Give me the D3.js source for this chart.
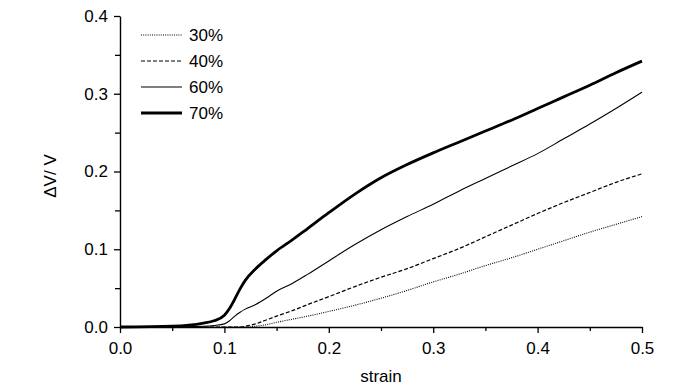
<!DOCTYPE html>
<html>
<head>
<meta charset="utf-8">
<script src="https://cdn.jsdelivr.net/npm/d3@7"></script>
<style>
  body { margin: 0; background: #fff; }
  svg { display: block; font-family: "Liberation Sans", Arial, sans-serif; }
</style>
</head>
<body>
<svg width="700" height="390"></svg>
<script>
// strain grid shared by all curves
const strain = [0, 0.05, 0.08, 0.09, 0.1, 0.105, 0.11, 0.115, 0.12, 0.13, 0.14, 0.15, 0.165, 0.18,
  0.2, 0.225, 0.25, 0.275, 0.3, 0.325, 0.35, 0.375, 0.4, 0.425, 0.45, 0.475, 0.5];

// dV/V
const dv30 = [0, 0, 0, 0, 0, 0, 0, 0, 0, 0.001, 0.003, 0.006, 0.01, 0.014,
  0.02, 0.028, 0.037, 0.047, 0.058, 0.068, 0.079, 0.089, 0.1, 0.111, 0.122, 0.132, 0.142];
const dv40 = [0, 0, 0, 0, 0, 0, 0, 0, 0.001, 0.004, 0.009, 0.014, 0.021, 0.029,
  0.039, 0.052, 0.064, 0.075, 0.088, 0.101, 0.116, 0.131, 0.146, 0.16, 0.173, 0.186, 0.197];
const dv60 = [0, 0, 0.001, 0.002, 0.004, 0.008, 0.014, 0.019, 0.023, 0.029, 0.037, 0.046, 0.056, 0.068,
  0.085, 0.106, 0.125, 0.142, 0.158, 0.175, 0.191, 0.207, 0.223, 0.242, 0.261, 0.281, 0.302];
const dv70 = [0, 0.001, 0.005, 0.008, 0.015, 0.024, 0.036, 0.049, 0.06, 0.075, 0.087, 0.098, 0.112, 0.127,
  0.147, 0.171, 0.192, 0.209, 0.224, 0.238, 0.252, 0.266, 0.281, 0.296, 0.311, 0.327, 0.342];

const seriesNames = ["30%", "40%", "60%", "70%"];
const seriesValues = [dv30, dv40, dv60, dv70];

const xMajor = [0, 0.1, 0.2, 0.3, 0.4, 0.5];
const xMinor = [0.05, 0.15, 0.25, 0.35, 0.45];
const yMajor = [0, 0.1, 0.2, 0.3, 0.4];
const yMinor = [0.05, 0.15, 0.25, 0.35];

// line looks per series
const styles = [
  { w: 1.1, dash: "1,1.2" },
  { w: 1.2, dash: "4,2" },
  { w: 1.1, dash: null },
  { w: 2.8, dash: null }
];

const svg = d3.select("svg");
const plotLeft = 120, plotRight = 642, plotTop = 16, plotBottom = 327;
const fs = 17;

const x = d3.scaleLinear().domain([0, 0.5]).range([plotLeft, plotRight]);
const y = d3.scaleLinear().domain([0, 0.4]).range([plotBottom, plotTop]);

function styleAxis(g) {
  g.selectAll("path.domain").attr("stroke", "#000").attr("stroke-width", 1.4);
  g.selectAll(".tick line").attr("stroke", "#000").attr("stroke-width", 1.3);
  g.selectAll("text").attr("font-size", fs).attr("fill", "#000")
    .attr("font-family", "'Liberation Sans', Arial, sans-serif");
}

// minor ticks first, no domain
svg.append("g").attr("transform", `translate(0,${plotBottom})`)
  .call(d3.axisBottom(x).tickValues(xMinor).tickSize(4).tickFormat(""))
  .call(g => g.select(".domain").remove()).call(styleAxis);
svg.append("g").attr("transform", `translate(${plotLeft},0)`)
  .call(d3.axisLeft(y).tickValues(yMinor).tickSize(5).tickFormat(""))
  .call(g => g.select(".domain").remove()).call(styleAxis);

svg.append("g").attr("transform", `translate(0,${plotBottom})`)
  .call(d3.axisBottom(x).tickValues(xMajor).tickSizeInner(6).tickSizeOuter(0).tickPadding(9)
    .tickFormat(d3.format(".1f")))
  .call(styleAxis);
svg.append("g").attr("transform", `translate(${plotLeft},0)`)
  .call(d3.axisLeft(y).tickValues(yMajor).tickSizeInner(6).tickSizeOuter(0).tickPadding(6)
    .tickFormat(d3.format(".1f")))
  .call(styleAxis);

// axis titles
svg.append("text")
  .attr("x", (plotLeft + plotRight) / 2).attr("y", 382)
  .attr("text-anchor", "middle").attr("font-size", fs)
  .text("strain");
svg.append("text")
  .attr("transform", "translate(56,176) rotate(-90)")
  .attr("text-anchor", "middle").attr("font-size", fs)
  .text("\u0394V/ V");

// curves
const line = d3.line()
  .x((d, i) => x(strain[i]))
  .y(d => y(d))
  .curve(d3.curveMonotoneX);

seriesValues.forEach((vals, i) => {
  svg.append("path")
    .datum(vals)
    .attr("d", line)
    .attr("fill", "none")
    .attr("stroke", "#000")
    .attr("stroke-width", styles[i].w)
    .attr("stroke-dasharray", styles[i].dash)
    .attr("stroke-linejoin", "round");
});

// legend
const legendY = [35, 61, 87, 113];
const legend = svg.append("g");
seriesNames.forEach((name, i) => {
  legend.append("line")
    .attr("x1", 141).attr("x2", 182)
    .attr("y1", legendY[i]).attr("y2", legendY[i])
    .attr("stroke", "#000")
    .attr("stroke-width", i === 3 ? 3 : styles[i].w)
    .attr("stroke-dasharray", styles[i].dash);
  legend.append("text")
    .attr("x", 189).attr("y", legendY[i]).attr("dy", "0.36em")
    .attr("font-size", fs)
    .text(name);
});
</script>
</body>
</html>
